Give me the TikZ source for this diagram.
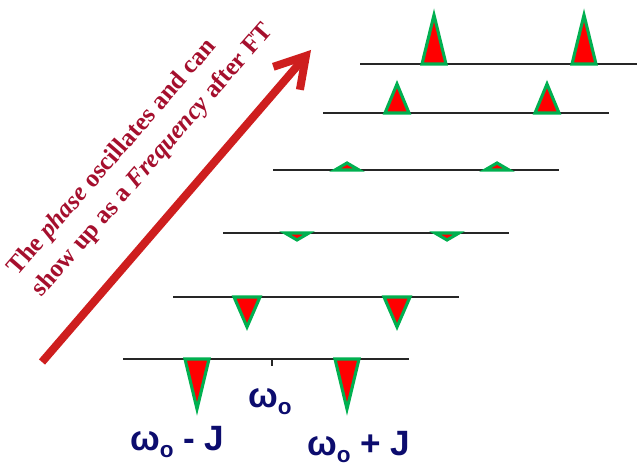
\documentclass[tikz,border=0pt]{standalone}
\usepackage{fontspec}
\setmainfont{Liberation Serif}
\newfontfamily\freqfont{Liberation Sans}
\usetikzlibrary{arrows.meta}
\definecolor{PeakRed}{RGB}{255,0,0}
\definecolor{PeakGreen}{RGB}{0,176,80}
\definecolor{ArrowRed}{RGB}{206,30,30}
\definecolor{NoteMaroon}{RGB}{165,15,45}
\definecolor{FreqNavy}{RGB}{12,12,110}
\newcommand{\wo}{ω\raisebox{-5.5pt}{\fontsize{16}{16}\selectfont o}}

\begin{document}
\begin{tikzpicture}[x=0.025cm, y=-0.025cm,
  axisline/.style={draw=black!85, line width=1.3pt},
  peak/.style={fill=PeakRed, draw=PeakGreen, line width=2.2pt, line join=miter},
  freqlabel/.style={font=\freqfont\bfseries\fontsize{25}{28}\selectfont, text=FreqNavy, inner sep=0pt, anchor=base west}]
  \useasboundingbox (0,0) rectangle (637,464);
  % spectra, one row per delay
  \draw[axisline] (123,359) -- (409,359);
  \draw[axisline] (272,359) -- (272,366);
  \draw[axisline] (173,297) -- (459,297);
  \draw[axisline] (223,233) -- (509,233);
  \draw[axisline] (273,170) -- (559,170);
  \draw[axisline] (323,113) -- (609,113);
  \draw[axisline] (360,64) -- (637,64);
  \draw[peak] (185,359) -- (209,359) -- (197,409) -- cycle;
  \draw[peak] (335,359) -- (359,359) -- (347,409) -- cycle;
  \draw[peak] (234,297) -- (260,297) -- (247,327) -- cycle;
  \draw[peak] (384,297) -- (410,297) -- (397,327) -- cycle;
  \draw[peak] (285,233) -- (309,233) -- (297,240) -- cycle;
  \draw[peak] (435,233) -- (459,233) -- (447,240) -- cycle;
  \draw[peak] (335,170) -- (359,170) -- (347,163) -- cycle;
  \draw[peak] (485,170) -- (509,170) -- (497,163) -- cycle;
  \draw[peak] (385,113) -- (409,113) -- (397,84) -- cycle;
  \draw[peak] (535,113) -- (559,113) -- (547,84) -- cycle;
  \draw[peak] (422,64) -- (446,64) -- (434,15) -- cycle;
  \draw[peak] (572,64) -- (596,64) -- (584,15) -- cycle;
  % frequency labels
  \node[freqlabel] (wo) at (248,407) {\wo};
  \node[freqlabel] (wominus) at (130,450) {\wo\ - J};
  \node[freqlabel] (woplus) at (307,455) {\wo\ + J};
  % phase evolution
  \coordinate (arrowstart) at (42,362);
  \coordinate (arrowtip) at (311,50);
  \draw[-{Straight Barb[length=21pt, width=25pt]}, line width=5.7pt, ArrowRed] (arrowstart) -- (arrowtip);
  \node[rotate=49, align=left, text=NoteMaroon, font=\bfseries\fontsize{18}{23}\selectfont] (note) at (141,150)
    {The \textit{phase} oscillates and can\\show up as a \textit{Frequency} after FT};
\end{tikzpicture}
\end{document}
